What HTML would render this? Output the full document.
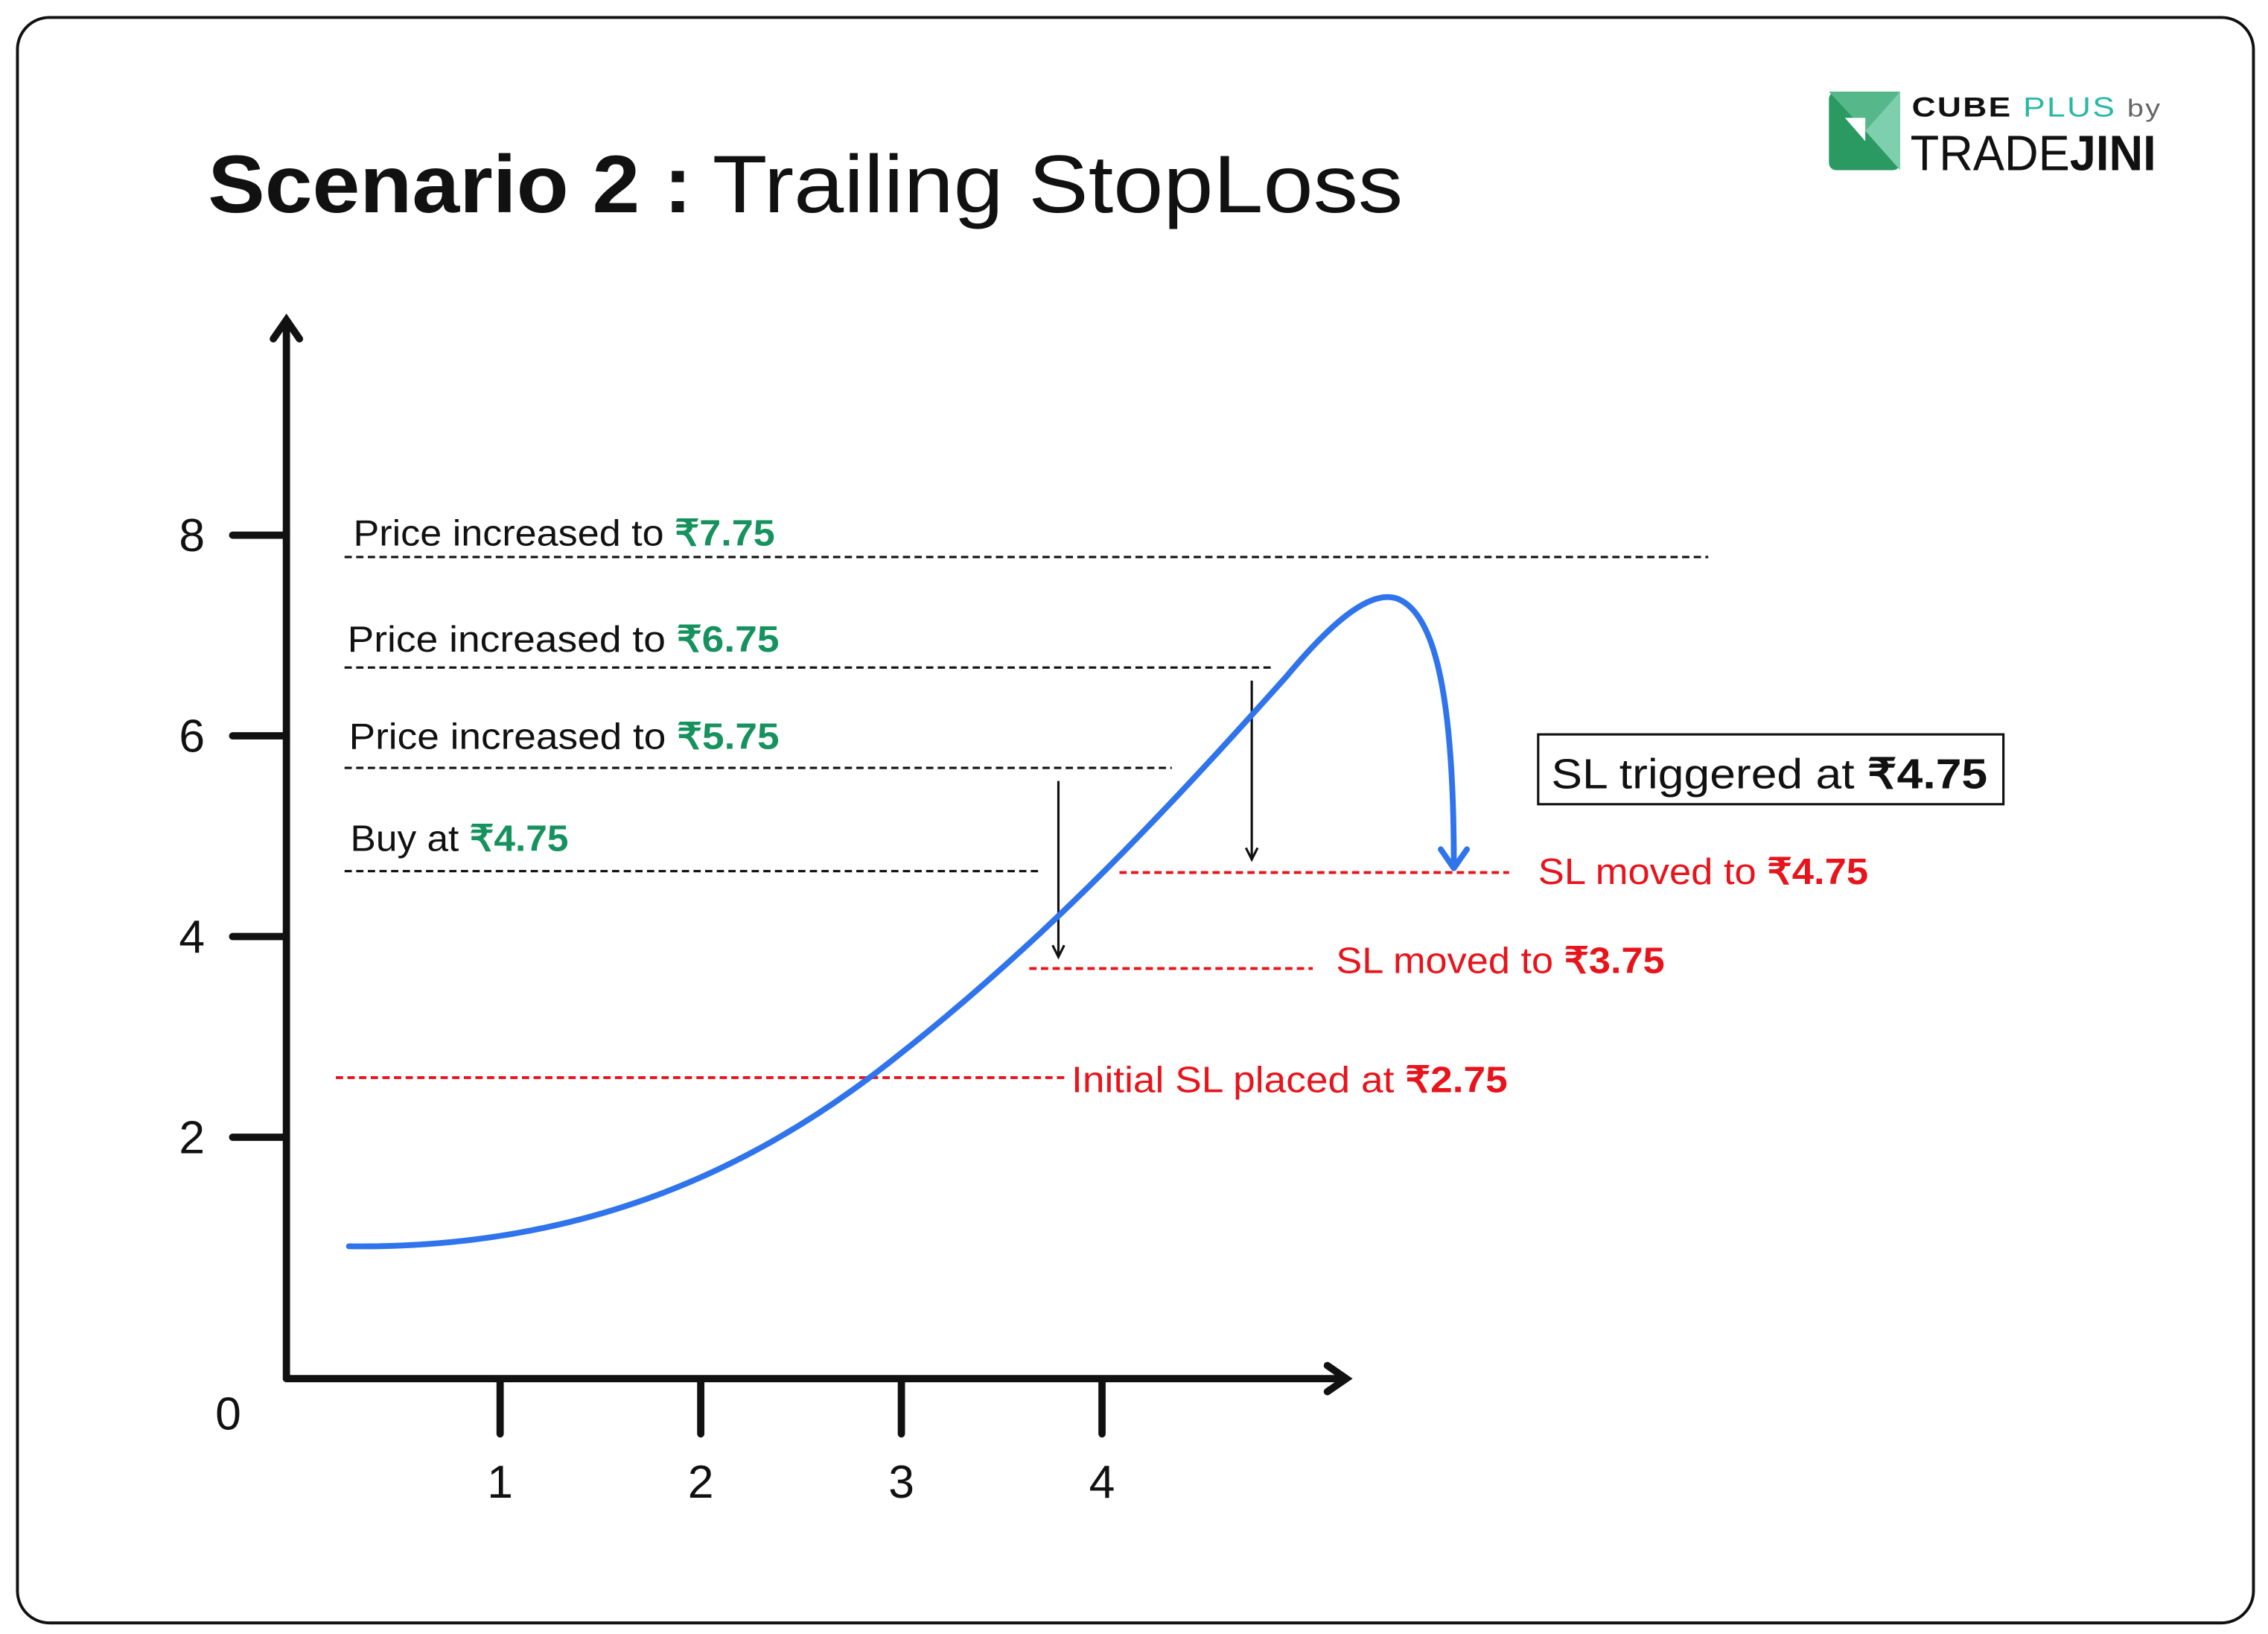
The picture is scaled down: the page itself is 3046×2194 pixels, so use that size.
<!DOCTYPE html>
<html><head><meta charset="utf-8"><style>
html,body{margin:0;padding:0;background:#fff}
svg{display:block}
text{font-family:"Liberation Sans",sans-serif}
</style></head><body>
<svg width="3046" height="2194" viewBox="0 0 1560 1123.6" xmlns="http://www.w3.org/2000/svg">
<rect x="0" y="0" width="1560" height="1124" fill="#fff"/>
<rect x="12" y="12" width="1538" height="1104" rx="22" fill="#fff" stroke="#111" stroke-width="2"/>
<text x="143" y="146" font-size="56" font-weight="bold" fill="#111" textLength="333" lengthAdjust="spacingAndGlyphs">Scenario 2 :</text>
<text x="490" y="146" font-size="56" fill="#111" textLength="475" lengthAdjust="spacingAndGlyphs">Trailing StopLoss</text>
<!-- logo -->
<rect x="1258" y="63" width="49" height="54" rx="5" fill="#2a9a62"/>
<polygon points="1307,63 1307,117 1283,90" fill="#7dcfae"/>
<polygon points="1258,63 1307,63 1283,90" fill="#56b88a"/>
<polygon points="1269,81 1283,81 1283,97" fill="#fff"/>
<text x="1315" y="80" font-size="19" font-weight="bold" fill="#111" letter-spacing="1" textLength="172" lengthAdjust="spacingAndGlyphs">CUBE <tspan font-weight="normal" fill="#2ab8a6">PLUS</tspan> <tspan font-weight="normal" fill="#666" font-size="17">by</tspan></text>
<text x="1314" y="117" font-size="34" fill="#111" textLength="169" lengthAdjust="spacingAndGlyphs">TRADE<tspan font-weight="bold">JINI</tspan></text>
<!-- axes -->
<g stroke="#111" stroke-width="5" fill="none" stroke-linecap="round">
<line x1="197" y1="222" x2="197" y2="948"/>
<polyline points="188,233 197,220 206,233"/>
<line x1="197" y1="948" x2="925" y2="948"/>
<polyline points="913,939 926,948 913,957"/>
<line x1="160" y1="368" x2="197" y2="368"/>
<line x1="160" y1="506" x2="197" y2="506"/>
<line x1="160" y1="644" x2="197" y2="644"/>
<line x1="160" y1="782" x2="197" y2="782"/>
<line x1="344" y1="950" x2="344" y2="986"/>
<line x1="482" y1="950" x2="482" y2="986"/>
<line x1="620" y1="950" x2="620" y2="986"/>
<line x1="758" y1="950" x2="758" y2="986"/>
</g>
<g font-size="32" fill="#111" text-anchor="middle">
<text x="132" y="379">8</text><text x="132" y="517">6</text><text x="132" y="655">4</text><text x="132" y="793">2</text>
<text x="157" y="983">0</text>
<text x="344" y="1030">1</text><text x="482" y="1030">2</text><text x="620" y="1030">3</text><text x="758" y="1030">4</text>
</g>
<!-- black dashed -->
<g stroke="#111" stroke-width="1.6" stroke-dasharray="5,3">
<line x1="237" y1="383" x2="1175" y2="383"/>
<line x1="237" y1="459" x2="877" y2="459"/>
<line x1="237" y1="528" x2="806" y2="528"/>
<line x1="237" y1="599" x2="717" y2="599"/>
</g>
<g font-size="25" fill="#111">
<text x="243" y="375" textLength="290" lengthAdjust="spacingAndGlyphs">Price increased to <tspan fill="#16925e" font-weight="bold">₹7.75</tspan></text>
<text x="239" y="448" textLength="297" lengthAdjust="spacingAndGlyphs">Price increased to <tspan fill="#16925e" font-weight="bold">₹6.75</tspan></text>
<text x="240" y="515" textLength="296" lengthAdjust="spacingAndGlyphs">Price increased to <tspan fill="#16925e" font-weight="bold">₹5.75</tspan></text>
<text x="241" y="585" textLength="150" lengthAdjust="spacingAndGlyphs">Buy at <tspan fill="#16925e" font-weight="bold">₹4.75</tspan></text>
</g>
<!-- red dashed -->
<g stroke="#e8141c" stroke-width="2" stroke-dasharray="5,3">
<line x1="231" y1="741" x2="735" y2="741"/>
<line x1="708" y1="666" x2="903" y2="666"/>
<line x1="770" y1="600" x2="1038" y2="600"/>
</g>
<g font-size="25" fill="#e8141c">
<text x="737" y="751" textLength="300" lengthAdjust="spacingAndGlyphs">Initial SL placed at <tspan font-weight="bold">₹2.75</tspan></text>
<text x="919" y="669" textLength="226" lengthAdjust="spacingAndGlyphs">SL moved to <tspan font-weight="bold">₹3.75</tspan></text>
<text x="1058" y="608" textLength="227" lengthAdjust="spacingAndGlyphs">SL moved to <tspan font-weight="bold">₹4.75</tspan></text>
</g>
<!-- black arrows -->
<g stroke="#111" stroke-width="1.6" fill="none">
<line x1="728" y1="537" x2="728" y2="658"/><polyline points="724,650 728,658 732,650"/>
<line x1="861" y1="468" x2="861" y2="591"/><polyline points="857,583 861,591 865,583"/>
</g>
<!-- box -->
<rect x="1058" y="505" width="320" height="48" fill="#fff" stroke="#111" stroke-width="1.6"/>
<text x="1067" y="542" font-size="29" fill="#111" textLength="300" lengthAdjust="spacingAndGlyphs">SL triggered at <tspan font-weight="bold">₹4.75</tspan></text>
<!-- blue curve -->
<path d="M240,857 C400,859 520,805 620,724 C720,645 800,560 885,465 C920,423 945,405 962,412 C985,422 1000,470 1000,595" fill="none" stroke="#2f74ec" stroke-width="4" stroke-linecap="round"/>
<polyline points="991,584 1000,597 1009,584" fill="none" stroke="#2f74ec" stroke-width="4" stroke-linecap="round" stroke-linejoin="round"/>
</svg>
</body></html>
